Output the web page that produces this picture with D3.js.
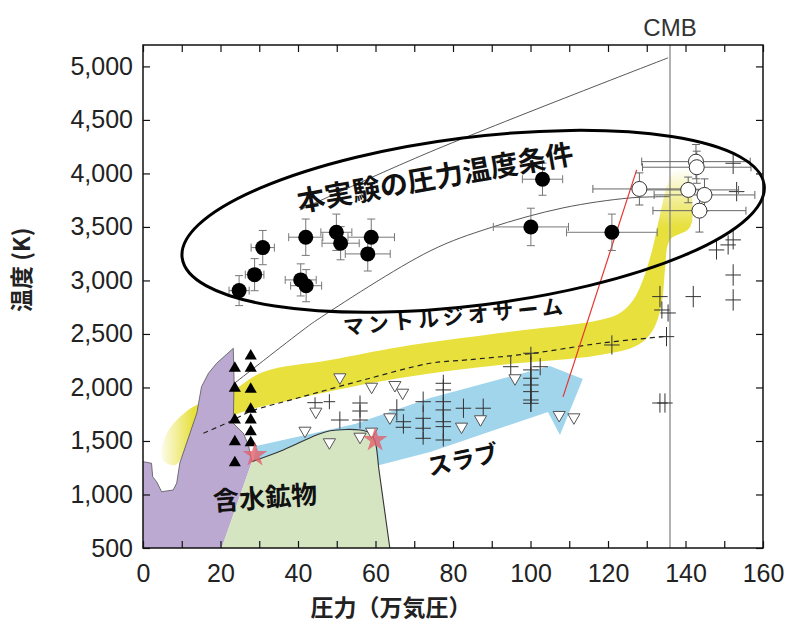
<!DOCTYPE html>
<html>
<head>
<meta charset="utf-8">
<script src="https://cdn.jsdelivr.net/npm/d3@7"></script>
<style>
  body { margin: 0; background: #fff; }
  text { font-family: "Liberation Sans", Arial, sans-serif; }
  .jp { font-family: "Noto Sans CJK JP", sans-serif; }
</style>
</head>
<body>
<div id="chart"></div>
<script>
// ---- data (pressure in 10^4 atm / GPa, temperature in K) ----
var xTicks = [0, 20, 40, 60, 80, 100, 120, 140, 160];
var yTicks = [500, 1000, 1500, 2000, 2500, 3000, 3500, 4000, 4500, 5000];
var cmbPressure = 136;

// this study: [P, T, dP, dT]
var thisStudy = [
  [24.8, 2905, 2.6, 140], [28.8, 3054, 2.4, 150], [30.9, 3307, 3.0, 160],
  [40.7, 3005, 4.0, 150], [42.1, 2951, 4.0, 150], [42.0, 3404, 4.4, 170],
  [49.9, 3450, 4.0, 170], [51.0, 3348, 4.8, 155], [58.9, 3404, 6.0, 170],
  [58.0, 3248, 5.8, 160], [103.1, 3946, 5.2, 150], [100.1, 3500, 9.7, 175],
  [121.0, 3450, 11.7, 170]
];
// open circles: [P, T, dP, dT]
var openPts = [
  [128.1, 3855, 12, 150], [142.7, 4110, 14, 160], [142.9, 4058, 14, 150],
  [140.7, 3846, 13, 120], [144.9, 3799, 13, 150], [143.6, 3652, 12, 200]
];
// other data shown only as error crosses: [P, T, dP, dT]
var crossPts = [
  [44.4, 1858, 2, 50], [48.1, 1867, 1.5, 70], [50.8, 1696, 2.3, 80],
  [56, 1855, 2, 70], [56, 1780, 2, 60], [56, 1696, 2, 80],
  [65.5, 1790, 2, 100], [67.2, 1680, 2, 70], [67.2, 1628, 2, 60],
  [72.3, 1867, 2, 95], [72.3, 1712, 2, 120], [72.3, 1619, 2, 100], [72.3, 1525, 2, 60],
  [77.5, 2039, 2, 80], [77.5, 1977, 2, 100], [77.5, 1867, 2, 120], [77.5, 1790, 2, 120],
  [77.5, 1680, 2, 150], [77.5, 1634, 2, 120], [77.5, 1509, 2, 60],
  [82.7, 1806, 2, 90], [87.8, 1806, 2, 90],
  [100.1, 2320, 2, 60], [100.1, 2164, 2, 150], [100.1, 2086, 2, 200], [100.1, 2023, 2, 170],
  [100.1, 1961, 2, 120], [100.1, 1883, 2, 110], [100.1, 1852, 2, 80],
  [94.9, 2194, 2, 100], [102.5, 2194, 2, 80],
  [152.3, 3051, 2, 100], [133.4, 2849, 2, 100], [133.9, 2724, 2, 80], [135.5, 2696, 2, 80],
  [142.0, 2849, 2, 100], [152.3, 2818, 2, 100], [135.1, 2475, 2, 90], [121.0, 2397, 2, 90],
  [133.4, 1855, 2, 90], [134.7, 1855, 2, 90],
  [152.3, 4095, 2, 100], [153.2, 3830, 2, 90],
  [148.0, 3285, 2, 90], [151.0, 3332, 2, 90], [152.3, 3379, 2, 90]
];
// black up triangles: [P, T]
var upTri = [
  [23.7, 2180], [23.7, 1993], [23.7, 1696], [23.7, 1493], [23.7, 1297],
  [27.8, 2294], [27.8, 2180], [27.8, 1983], [27.8, 1796], [27.8, 1696], [27.8, 1587], [27.8, 1484]
];
// open down triangles: [P, T]
var downTri = [
  [50.8, 2095], [59.0, 2007], [65.0, 2023], [67.0, 1951], [44.6, 1774], [63.7, 1721],
  [41.8, 1596], [48.1, 1488], [56.0, 1540], [59.0, 1587], [82.2, 1634], [87.1, 1703],
  [96.0, 2086], [107.4, 1743], [111.2, 1721]
];
var stars = [[28.9, 1369], [59.9, 1509]];

// fields and bands: [P, T] outlines
var purpleField = [
  [0, 1307], [2.2, 1292], [2.5, 1166], [3.5, 1120], [4.8, 1026], [7.8, 1042], [8.7, 1107],
  [9.5, 1294], [13.9, 1762], [15.1, 2007], [16.9, 2133], [19.0, 2226], [23.3, 2366],
  [23.5, 2070], [23.3, 1665], [25.9, 1572], [27.2, 1463], [28.1, 1307], [20.3, 500], [0, 500]
];
var hydrousField = [
  [28.1, 1307], [36.2, 1416], [44.8, 1556], [48.3, 1596], [56.0, 1603], [58.6, 1572],
  [59.9, 1493], [60.9, 1229], [63.7, 500], [20.3, 500]
];
var slabArrow = [
  [28.1, 1229], [29.2, 1453], [54.7, 1659], [74.1, 1902], [105, 2201], [113.5, 2079],
  [107.6, 1556], [104.5, 1771], [74.1, 1397], [60.1, 1266], [40.5, 1042]
];
var mantleBand = [
  [6.0, 1560], [12.1, 1800], [22.5, 1958], [31, 2145], [48.3, 2257], [66.3, 2379],
  [92.1, 2509], [117.9, 2631], [123.1, 2696], [126.5, 2818], [129, 3005], [131.4, 3285],
  [133.4, 3612], [135.5, 3921], [136.8, 4014], [140.6, 4051], [141.2, 3939], [141.2, 3500],
  [136, 3379], [134.7, 3098], [133.9, 2790], [131.6, 2537], [127.7, 2397], [117.9, 2304],
  [92.1, 2210], [66.3, 2089], [40.5, 1902], [22.5, 1724], [12.1, 1463], [8.3, 1276], [5.0, 1330]
];
var geotherm = [
  [15.6, 1572], [23.3, 1696], [27.6, 1774], [39.7, 1899], [56.9, 2070], [74.1, 2226],
  [83.5, 2257], [100.7, 2320], [117.9, 2413], [134.3, 2475]
];
var solidus = [
  [23.7, 2042], [41.3, 2537], [44.9, 2631], [74.1, 3276], [89.5, 3491], [108.4, 3678],
  [125.7, 3771], [136, 3783]
];
var liquidus = [[40.5, 3659], [74.1, 4201], [135.5, 5080]];
var redLine = [[108.4, 1912], [127.4, 4033]];
var ellipseEnds = [[10.1, 3212], [160.3, 3893]];
var ellipseHalfWidthK = 785;

// ---- layout ----
var margin = {top: 45, right: 28, bottom: 75, left: 143},
    width = 791 - margin.left - margin.right,
    height = 623 - margin.top - margin.bottom;

var x = d3.scaleLinear().domain([0, 160]).range([0, width]);
var y = d3.scaleLinear().domain([500, 5200]).range([height, 0]);

var svg = d3.select("#chart").append("svg")
    .attr("width", 791).attr("height", 623);
var defs = svg.append("defs");
defs.append("clipPath").attr("id", "plotclip")
  .append("rect").attr("width", width).attr("height", height);

// fade mask for the mantle band ends
var gl = defs.append("linearGradient").attr("id", "fadeL")
    .attr("gradientUnits", "userSpaceOnUse")
    .attr("x1", x(5)).attr("x2", x(13)).attr("y1", 0).attr("y2", 0);
gl.append("stop").attr("offset", 0).attr("stop-color", "#222");
gl.append("stop").attr("offset", 1).attr("stop-color", "#fff");
var gt = defs.append("linearGradient").attr("id", "fadeT")
    .attr("gradientUnits", "userSpaceOnUse")
    .attr("x1", 0).attr("x2", 0).attr("y1", y(4050)).attr("y2", y(3500));
gt.append("stop").attr("offset", 0).attr("stop-color", "#000");
gt.append("stop").attr("offset", 1).attr("stop-color", "#fff");
var mask = defs.append("mask").attr("id", "bandmask")
    .attr("maskUnits", "userSpaceOnUse")
    .attr("x", 0).attr("y", 0).attr("width", width).attr("height", height);
mask.append("rect").attr("width", width).attr("height", height).attr("fill", "#fff");
mask.append("rect").attr("x", 0).attr("y", y(2000)).attr("width", x(13)).attr("height", height - y(2000))
    .attr("fill", "url(#fadeL)");
mask.append("rect").attr("x", x(130)).attr("y", 0).attr("width", x(15)).attr("height", y(3500))
    .attr("fill", "url(#fadeT)");

var g = svg.append("g").attr("transform", "translate(" + margin.left + "," + margin.top + ")");
var plot = g.append("g").attr("clip-path", "url(#plotclip)");

var line = d3.line().x(function(d) { return x(d[0]); }).y(function(d) { return y(d[1]); });
var smoothClosed = d3.line().x(function(d) { return x(d[0]); }).y(function(d) { return y(d[1]); })
    .curve(d3.curveCatmullRomClosed.alpha(0.5));
var smooth = d3.line().x(function(d) { return x(d[0]); }).y(function(d) { return y(d[1]); })
    .curve(d3.curveCatmullRom.alpha(0.5));

// mantle geotherm band
plot.append("g").attr("mask", "url(#bandmask)")
  .append("path").datum(mantleBand)
    .attr("d", smoothClosed)
    .style("fill", "#e7e03d");

// slab arrow
plot.append("path").datum(slabArrow)
    .attr("d", function(d) { return line(d) + "Z"; })
    .style("fill", "#a0d5ec");

// purple field
plot.append("path").datum(purpleField)
    .attr("d", function(d) { return line(d) + "Z"; })
    .style("fill", "#bba9d1");
plot.append("path").datum(purpleField.slice(0, 18))
    .attr("d", line).style("fill", "none").style("stroke", "#555").style("stroke-width", 0.8);

// hydrous minerals field
plot.append("path").datum(hydrousField)
    .attr("d", function(d) { return line(d) + "Z"; })
    .style("fill", "#d5e5c2");
plot.append("path").datum(hydrousField.slice(0, 9))
    .attr("d", smooth).style("fill", "none").style("stroke", "#333").style("stroke-width", 1.1);

// geotherm dashed
plot.append("path").datum(geotherm)
    .attr("d", smooth).style("fill", "none").style("stroke", "#222")
    .style("stroke-width", 1.2).style("stroke-dasharray", "5,4");

// thin melting curves
plot.append("path").datum(solidus)
    .attr("d", smooth).style("fill", "none").style("stroke", "#444").style("stroke-width", 0.9);
plot.append("path").datum(liquidus)
    .attr("d", smooth).style("fill", "none").style("stroke", "#444").style("stroke-width", 0.9);

// CMB line
plot.append("line")
    .attr("x1", x(cmbPressure)).attr("x2", x(cmbPressure))
    .attr("y1", 0).attr("y2", height)
    .style("stroke", "#888").style("stroke-width", 1.3);

// error bar helper
function errBars(sel, data, color, cap) {
  var eb = sel.append("g").selectAll("g").data(data).enter().append("g")
      .style("stroke", color).style("stroke-width", 1).style("fill", "none");
  eb.append("line")
      .attr("x1", function(d) { return x(d[0] - d[2]); })
      .attr("x2", function(d) { return x(d[0] + d[2]); })
      .attr("y1", function(d) { return y(d[1]); })
      .attr("y2", function(d) { return y(d[1]); });
  eb.append("line")
      .attr("x1", function(d) { return x(d[0]); })
      .attr("x2", function(d) { return x(d[0]); })
      .attr("y1", function(d) { return y(d[1] - d[3]); })
      .attr("y2", function(d) { return y(d[1] + d[3]); });
  if (cap) {
    [-1, 1].forEach(function(s) {
      eb.append("line")
          .attr("x1", function(d) { return x(d[0] + s * d[2]); })
          .attr("x2", function(d) { return x(d[0] + s * d[2]); })
          .attr("y1", function(d) { return y(d[1]) - cap; })
          .attr("y2", function(d) { return y(d[1]) + cap; });
      eb.append("line")
          .attr("x1", function(d) { return x(d[0]) - cap; })
          .attr("x2", function(d) { return x(d[0]) + cap; })
          .attr("y1", function(d) { return y(d[1] + s * d[3]); })
          .attr("y2", function(d) { return y(d[1] + s * d[3]); });
    });
  }
}

// red line
plot.append("path").datum(redLine)
    .attr("d", line).style("stroke", "#e8352f").style("stroke-width", 1.2).style("fill", "none");

// crosses
errBars(plot, crossPts, "#333", 0);

// ellipse of this study's P-T conditions
var e0 = [x(ellipseEnds[0][0]), y(ellipseEnds[0][1])],
    e1 = [x(ellipseEnds[1][0]), y(ellipseEnds[1][1])];
var ecx = (e0[0] + e1[0]) / 2, ecy = (e0[1] + e1[1]) / 2;
var erx = Math.hypot(e1[0] - e0[0], e1[1] - e0[1]) / 2;
var ery = y(500) - y(500 + ellipseHalfWidthK);
var eang = Math.atan2(e1[1] - e0[1], e1[0] - e0[0]) * 180 / Math.PI;
g.append("ellipse")
    .attr("cx", 0).attr("cy", 0).attr("rx", erx).attr("ry", ery)
    .attr("transform", "translate(" + ecx + "," + ecy + ") rotate(" + eang + ")")
    .style("fill", "none").style("stroke", "#000").style("stroke-width", 3);

// open circles
errBars(plot, openPts, "#666", 4);
plot.append("g").selectAll("circle").data(openPts).enter().append("circle")
    .attr("cx", function(d) { return x(d[0]); })
    .attr("cy", function(d) { return y(d[1]); })
    .attr("r", 7.5)
    .style("fill", "#fff").style("stroke", "#333").style("stroke-width", 1);

// this study
errBars(plot, thisStudy, "#777", 4);
plot.append("g").selectAll("circle").data(thisStudy).enter().append("circle")
    .attr("cx", function(d) { return x(d[0]); })
    .attr("cy", function(d) { return y(d[1]); })
    .attr("r", 7.5)
    .style("fill", "#000");

// triangles
var tri = d3.symbol().type(d3.symbolTriangle).size(64);
plot.append("g").selectAll("path").data(downTri).enter().append("path")
    .attr("d", tri)
    .attr("transform", function(d) { return "translate(" + x(d[0]) + "," + y(d[1]) + ") rotate(180)"; })
    .style("fill", "#fff").style("stroke", "#555").style("stroke-width", 1);
plot.append("g").selectAll("path").data(upTri).enter().append("path")
    .attr("d", tri)
    .attr("transform", function(d) { return "translate(" + x(d[0]) + "," + y(d[1]) + ")"; })
    .style("fill", "#000");

// stars
plot.append("g").selectAll("path").data(stars).enter().append("path")
    .attr("d", d3.symbol().type(d3.symbolStar).size(190))
    .attr("transform", function(d) { return "translate(" + x(d[0]) + "," + y(d[1]) + ")"; })
    .style("fill", "#e2606c").style("opacity", 0.8);

// annotation labels
var labels = [
  {t: "本実験の圧力温度条件", p: 75.4, k: 3958, r: -10, s: 28},
  {t: "マントルジオサーム", p: 80.5, k: 2660, r: -5.5, s: 21, ls: 4},
  {t: "スラブ", p: 82.6, k: 1322, r: -12, s: 24},
  {t: "含水鉱物", p: 31.5, k: 967, r: -4, s: 26}
];
g.append("g").selectAll("text").data(labels).enter().append("text")
    .attr("class", "jp")
    .attr("transform", function(d) { return "translate(" + x(d.p) + "," + y(d.k) + ") rotate(" + d.r + ")"; })
    .attr("text-anchor", "middle")
    .attr("dy", "0.35em")
    .style("font-size", function(d) { return d.s + "px"; })
    .style("font-weight", 700)
    .style("letter-spacing", function(d) { return (d.ls || 0) + "px"; })
    .style("fill", "#111")
    .text(function(d) { return d.t; });

// axes
var tickLen = 7;
g.append("g").attr("transform", "translate(0," + height + ")")
    .call(d3.axisBottom(x).tickValues(d3.range(0, 161, 10)).tickSizeInner(-tickLen).tickSizeOuter(0)
      .tickFormat(function(d) { return xTicks.indexOf(d) >= 0 ? d : ""; }).tickPadding(16));
g.append("g")
    .call(d3.axisTop(x).tickValues(d3.range(0, 161, 10)).tickSizeInner(-tickLen).tickSizeOuter(0).tickFormat(""));
g.append("g")
    .call(d3.axisLeft(y).tickValues(yTicks).tickSizeInner(-tickLen).tickSizeOuter(0)
      .tickFormat(d3.format(",")).tickPadding(10));
g.append("g").attr("transform", "translate(" + width + ",0)")
    .call(d3.axisRight(y).tickValues(yTicks).tickSizeInner(-tickLen).tickSizeOuter(0).tickFormat(""));
g.selectAll(".domain").remove();
g.selectAll(".tick line").style("stroke", "#111").style("stroke-width", 1.2);
g.selectAll(".tick text").style("font-size", "25px").style("fill", "#222")
    .style("font-family", "'Liberation Sans', Arial, sans-serif");
g.append("rect").attr("width", width).attr("height", height)
    .style("fill", "none").style("stroke", "#111").style("stroke-width", 1.5);

// axis titles
g.append("text").attr("class", "jp")
    .attr("transform", "translate(" + (-113) + "," + (y(3100)) + ") rotate(-90)")
    .attr("text-anchor", "middle")
    .style("font-size", "23px").style("font-weight", 700).style("fill", "#222")
    .text("温度 (K)");
g.append("text").attr("class", "jp")
    .attr("x", x(64)).attr("y", height + 68)
    .attr("text-anchor", "middle")
    .style("font-size", "23px").style("font-weight", 700).style("fill", "#222")
    .text("圧力（万気圧）");
g.append("text")
    .attr("x", x(cmbPressure)).attr("y", -9)
    .attr("text-anchor", "middle")
    .style("font-size", "24px").style("fill", "#333")
    .text("CMB");
</script>
</body>
</html>
